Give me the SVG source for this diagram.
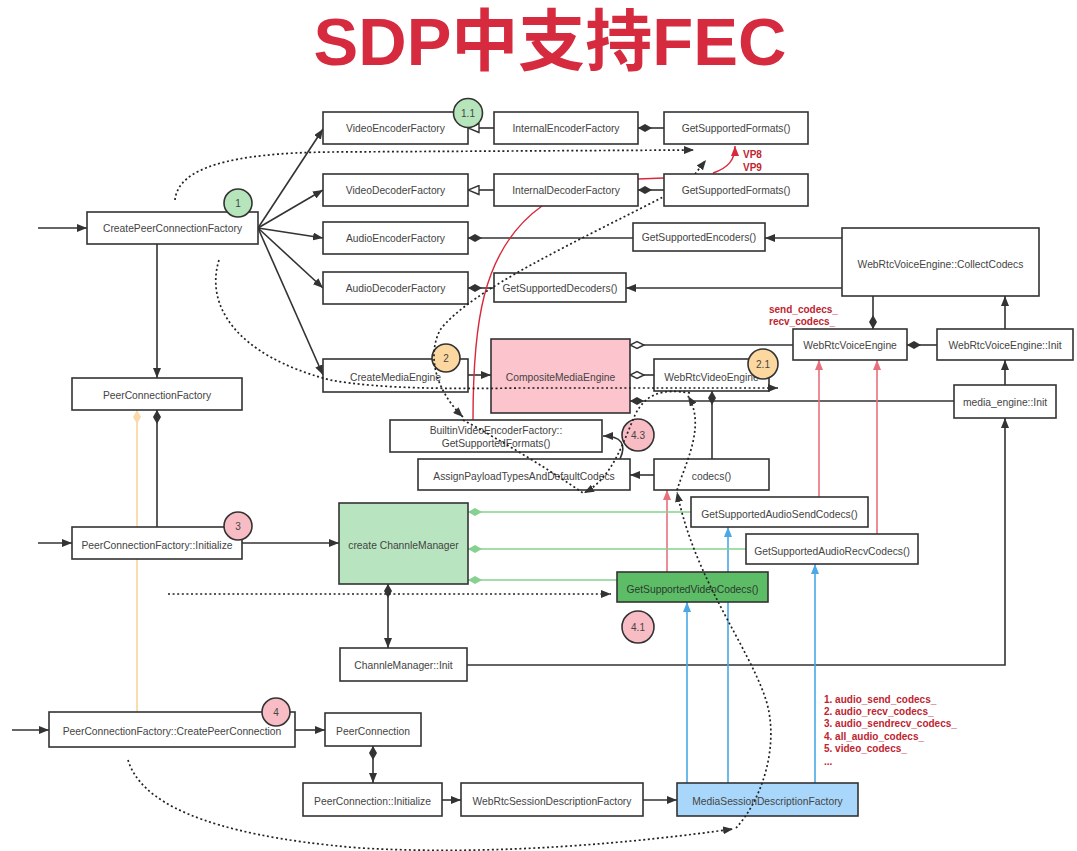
<svg xmlns="http://www.w3.org/2000/svg" width="1077" height="851" viewBox="0 0 1077 851">
<style>
.bg{fill:#fff}
.box{fill:#fff;stroke:#333;stroke-width:1.6}
.t{font-family:"Liberation Sans",Arial,sans-serif;font-size:10.3px;fill:#444;text-anchor:middle;dominant-baseline:central}
.ln{stroke:#333;stroke-width:1.6;fill:none}
.dot{stroke:#222;stroke-width:1.7;stroke-dasharray:2 2.6;fill:none}
.red{stroke:#d9283c;stroke-width:1.4;fill:none}
.pk{stroke:#e8707c;stroke-width:1.6;fill:none}
.bl{stroke:#4aa8e6;stroke-width:1.6;fill:none}
.gr{stroke:#86d090;stroke-width:1.6;fill:none}
.or{stroke:#fbd9a8;stroke-width:1.8;fill:none}
.badge{stroke:#333;stroke-width:1.6}
.bt{font-family:"Liberation Sans",Arial,sans-serif;font-size:10px;fill:#444;text-anchor:middle;dominant-baseline:central}
.lbl{font-family:"Liberation Sans",Arial,sans-serif;font-size:10px;font-weight:bold;fill:#c0242f}
.title{font-family:"Liberation Sans","Noto Sans CJK SC",sans-serif;font-size:67px;font-weight:bold;fill:#d62a3e;text-anchor:middle}
</style>
<defs>
<marker id="arr" viewBox="0 0 10 8" refX="10" refY="4" markerWidth="10" markerHeight="8" markerUnits="userSpaceOnUse" orient="auto-start-reverse"><path d="M0,0 L10,4 L0,8 z" fill="#333"/></marker>
<marker id="arrPk" viewBox="0 0 10 8" refX="10" refY="4" markerWidth="10" markerHeight="8" markerUnits="userSpaceOnUse" orient="auto"><path d="M0,0 L10,4 L0,8 z" fill="#e8707c"/></marker>
<marker id="arrBl" viewBox="0 0 10 8" refX="10" refY="4" markerWidth="10" markerHeight="8" markerUnits="userSpaceOnUse" orient="auto"><path d="M0,0 L10,4 L0,8 z" fill="#4aa8e6"/></marker>
<marker id="arrRed" viewBox="0 0 10 8" refX="10" refY="4" markerWidth="10" markerHeight="8" markerUnits="userSpaceOnUse" orient="auto"><path d="M0,0 L10,4 L0,8 z" fill="#d9283c"/></marker>
<marker id="dia" viewBox="0 0 14 8" refX="14" refY="4" markerWidth="14" markerHeight="8" markerUnits="userSpaceOnUse" orient="auto-start-reverse"><path d="M0,4 L7,0 L14,4 L7,8 z" fill="#333"/></marker>
<marker id="diaG" viewBox="0 0 14 8" refX="14" refY="4" markerWidth="14" markerHeight="8" markerUnits="userSpaceOnUse" orient="auto"><path d="M0,4 L7,0 L14,4 L7,8 z" fill="#86d090"/></marker>
<marker id="diaO" viewBox="0 0 14 8" refX="14" refY="4" markerWidth="14" markerHeight="8" markerUnits="userSpaceOnUse" orient="auto"><path d="M0,4 L7,0 L14,4 L7,8 z" fill="#fbd9a8"/></marker>
<marker id="hdia" viewBox="0 0 16 10" refX="15" refY="5" markerWidth="16" markerHeight="10" markerUnits="userSpaceOnUse" orient="auto"><path d="M1,5 L8,1.5 L15,5 L8,8.5 z" fill="#fff" stroke="#333" stroke-width="1.4"/></marker>
<marker id="htri" viewBox="0 0 13 11" refX="12" refY="5.5" markerWidth="13" markerHeight="11" markerUnits="userSpaceOnUse" orient="auto"><path d="M1,1 L12,5.5 L1,10 z" fill="#fff" stroke="#333" stroke-width="1.4"/></marker>
</defs>
<rect class="bg" x="0" y="0" width="1077" height="851"/>
<text class="title" x="550" y="65">SDP中支持FEC</text>

<g id="connectors">
<path class="ln" d="M38,228 L87,228" marker-end="url(#arr)"/>
<path class="ln" d="M38,543 L72,543" marker-end="url(#arr)"/>
<path class="ln" d="M12,730 L49,730" marker-end="url(#arr)"/>
<path class="ln" d="M258,228 L323,129" marker-end="url(#arr)"/>
<path class="ln" d="M258,228 L323,190" marker-end="url(#arr)"/>
<path class="ln" d="M258,228 L323,238" marker-end="url(#arr)"/>
<path class="ln" d="M258,228 L323,288" marker-end="url(#arr)"/>
<path class="ln" d="M258,228 L323,375" marker-end="url(#arr)"/>
<path class="ln" d="M157,244 L157,378" marker-end="url(#arr)"/>
<path class="ln" d="M157,527 L157,410" marker-end="url(#dia)"/>
<path class="or" d="M137,712 L137,410" marker-end="url(#diaO)"/>
<path class="ln" d="M242,543 L339,543" marker-end="url(#arr)"/>
<path class="ln" d="M388,584 L388,648" marker-start="url(#dia)" marker-end="url(#arr)"/>
<path class="ln" d="M467,665 L1005,665 L1005,418" marker-end="url(#arr)"/>
<path class="ln" d="M1005,385 L1005,360" marker-end="url(#arr)"/>
<path class="ln" d="M1005,329 L1005,296" marker-end="url(#arr)"/>
<path class="ln" d="M937,345 L907,345" marker-end="url(#dia)"/>
<path class="ln" d="M873,296 L873,329" marker-end="url(#dia)"/>
<path class="ln" d="M842,238 L765,238" marker-end="url(#arr)"/>
<path class="ln" d="M842,288 L626,288" marker-end="url(#arr)"/>
<path class="ln" d="M633,238 L468,238" marker-end="url(#dia)"/>
<path class="ln" d="M494,288 L468,288" marker-end="url(#dia)"/>
<path class="ln" d="M494,128 L468,128" marker-end="url(#htri)"/>
<path class="ln" d="M494,190 L468,190" marker-end="url(#htri)"/>
<path class="ln" d="M664,128 L638,128" marker-end="url(#dia)"/>
<path class="ln" d="M664,190 L638,190" marker-end="url(#dia)"/>
<path class="ln" d="M468,375 L491,375" marker-end="url(#arr)"/>
<path class="ln" d="M793,345 L630,345" marker-end="url(#hdia)"/>
<path class="ln" d="M654,375 L630,375" marker-end="url(#hdia)"/>
<path class="ln" d="M954,401 L630,401" marker-end="url(#dia)"/>
<path class="ln" d="M712,459 L712,391" marker-end="url(#dia)"/>
<path class="ln" d="M654,475 L630,475" marker-end="url(#arr)"/>
<path class="ln" d="M620,459 C627,444 621,436 603,436" marker-end="url(#arr)"/>
<path class="ln" d="M295,730 L325,730" marker-end="url(#arr)"/>
<path class="ln" d="M373,746 L373,783" marker-start="url(#dia)" marker-end="url(#arr)"/>
<path class="ln" d="M442,800 L461,800" marker-end="url(#arr)"/>
<path class="ln" d="M643,800 L677,800" marker-end="url(#arr)"/>
<path class="pk" d="M667,572 L667,490" marker-end="url(#arrPk)"/>
<path class="pk" d="M819,497 L819,360" marker-end="url(#arrPk)"/>
<path class="pk" d="M877,534 L877,360" marker-end="url(#arrPk)"/>
<path class="bl" d="M687,783 L687,602" marker-end="url(#arrBl)"/>
<path class="bl" d="M728,783 L728,527" marker-end="url(#arrBl)"/>
<path class="bl" d="M815,783 L815,564" marker-end="url(#arrBl)"/>
<path class="gr" d="M691,512 L468,512" marker-end="url(#diaG)"/>
<path class="gr" d="M746,549 L468,549" marker-end="url(#diaG)"/>
<path class="gr" d="M617,580 L468,580" marker-end="url(#diaG)"/>
<path class="red" d="M473,420 C473,330 480,250 542,206"/>
<path class="red" d="M638,179 L664,178"/>
<path class="red" d="M713,173 C728,168 735,160 735,146" marker-end="url(#arrRed)"/>
<path class="dot" d="M168,594 L611,594" marker-end="url(#arr)"/>
<path class="dot" d="M175,200 C178,168 230,153 330,152 L694,150" marker-end="url(#arr)"/>
<path class="dot" d="M695,174 L706,160" marker-end="url(#arr)"/>
</g>

<g id="n_cpcf"><rect class="box" x="87" y="212" width="171" height="32"/><text class="t" x="172.5" y="228">CreatePeerConnectionFactory</text></g>
<g id="n_vef"><rect class="box" x="323" y="112" width="145" height="32"/><text class="t" x="395.5" y="128">VideoEncoderFactory</text></g>
<g id="n_ief"><rect class="box" x="494" y="112" width="144" height="32"/><text class="t" x="566" y="128">InternalEncoderFactory</text></g>
<g id="n_gsf1"><rect class="box" x="664" y="112" width="144" height="32"/><text class="t" x="736" y="128">GetSupportedFormats()</text></g>
<g id="n_vdf"><rect class="box" x="323" y="174" width="145" height="32"/><text class="t" x="395.5" y="190">VideoDecoderFactory</text></g>
<g id="n_idf"><rect class="box" x="494" y="174" width="144" height="32"/><text class="t" x="566" y="190">InternalDecoderFactory</text></g>
<g id="n_gsf2"><rect class="box" x="664" y="174" width="144" height="32"/><text class="t" x="736" y="190">GetSupportedFormats()</text></g>
<g id="n_aef"><rect class="box" x="323" y="222" width="145" height="32"/><text class="t" x="395.5" y="238">AudioEncoderFactory</text></g>
<g id="n_gse"><rect class="box" x="633" y="223" width="132" height="28"/><text class="t" x="699" y="237">GetSupportedEncoders()</text></g>
<g id="n_adf"><rect class="box" x="323" y="272" width="145" height="32"/><text class="t" x="395.5" y="288">AudioDecoderFactory</text></g>
<g id="n_gsd"><rect class="box" x="494" y="273" width="132" height="29"/><text class="t" x="560" y="288">GetSupportedDecoders()</text></g>
<g id="n_cc"><rect class="box" x="842" y="228" width="197" height="68"/><text class="t" x="940.5" y="264">WebRtcVoiceEngine::CollectCodecs</text></g>
<g id="n_wve"><rect class="box" x="793" y="329" width="114" height="31"/><text class="t" x="850" y="345">WebRtcVoiceEngine</text></g>
<g id="n_wvei"><rect class="box" x="937" y="329" width="136" height="31"/><text class="t" x="1005" y="345">WebRtcVoiceEngine::Init</text></g>
<g id="n_cme"><rect class="box" x="323" y="359" width="145" height="33"/><text class="t" x="395.5" y="377">CreateMediaEngine</text></g>
<g id="n_comp"><rect class="box" x="491" y="339" width="139" height="74" style="fill:#fcc5cd"/><text class="t" x="560.5" y="377">CompositeMediaEngine</text></g>
<g id="n_wvideo"><rect class="box" x="654" y="359" width="115" height="32"/><text class="t" x="711.5" y="377">WebRtcVideoEngine</text></g>
<g id="n_mei"><rect class="box" x="954" y="385" width="102" height="33"/><text class="t" x="1005" y="402">media_engine::Init</text></g>
<g id="n_pcf"><rect class="box" x="72" y="378" width="170" height="32"/><text class="t" x="157" y="395">PeerConnectionFactory</text></g>
<g id="n_bvef"><rect class="box" x="390" y="420" width="212" height="32"/><text class="t" x="496" y="430">BuiltinVideoEncoderFactory::</text><text class="t" x="496" y="443">GetSupportedFormats()</text></g>
<g id="n_apt"><rect class="box" x="418" y="459" width="212" height="31"/><text class="t" x="524" y="476">AssignPayloadTypesAndDefaultCodecs</text></g>
<g id="n_codecs"><rect class="box" x="654" y="459" width="115" height="31"/><text class="t" x="711.5" y="476">codecs()</text></g>
<g id="n_pcfi"><rect class="box" x="72" y="527" width="170" height="32"/><text class="t" x="157" y="545">PeerConnectionFactory::Initialize</text></g>
<g id="n_ccm"><rect class="box" x="339" y="503" width="129" height="81" style="fill:#b8e4c0"/><text class="t" x="403.5" y="545">create ChannleManager</text></g>
<g id="n_gsas"><rect class="box" x="691" y="497" width="177" height="30"/><text class="t" x="779.5" y="514">GetSupportedAudioSendCodecs()</text></g>
<g id="n_gsar"><rect class="box" x="746" y="534" width="172" height="30"/><text class="t" x="832" y="551">GetSupportedAudioRecvCodecs()</text></g>
<g id="n_gsvc"><rect class="box" x="617" y="572" width="151" height="30" style="fill:#5dbd67"/><text class="t" x="692.5" y="589" style="fill:#2d3a2e">GetSupportedVideoCodecs()</text></g>
<g id="n_cmi"><rect class="box" x="340" y="648" width="127" height="33"/><text class="t" x="403.5" y="665">ChannleManager::Init</text></g>
<g id="n_cpc"><rect class="box" x="49" y="712" width="246" height="35"/><text class="t" x="172" y="731">PeerConnectionFactory::CreatePeerConnection</text></g>
<g id="n_pc"><rect class="box" x="325" y="713" width="96" height="33"/><text class="t" x="373" y="731">PeerConnection</text></g>
<g id="n_pci"><rect class="box" x="303" y="783" width="139" height="33"/><text class="t" x="372.5" y="801">PeerConnection::Initialize</text></g>
<g id="n_wsdf"><rect class="box" x="461" y="783" width="182" height="33"/><text class="t" x="552" y="801">WebRtcSessionDescriptionFactory</text></g>
<g id="n_msdf"><rect class="box" x="677" y="783" width="181" height="33" style="fill:#a9d7fb"/><text class="t" x="767.5" y="801">MediaSessionDescriptionFactory</text></g>

<g id="badges">
<g id="b1"><circle class="badge" cx="238" cy="203" r="14" fill="#b6e5bb"/><text class="bt" x="238" y="203">1</text></g>
<g id="b11"><circle class="badge" cx="468" cy="113" r="14.5" fill="#b6e5bb"/><text class="bt" x="468" y="113">1.1</text></g>
<g id="b2"><circle class="badge" cx="446" cy="358" r="14" fill="#fcd8a0"/><text class="bt" x="446" y="358">2</text></g>
<g id="b21"><circle class="badge" cx="763" cy="364" r="15" fill="#fcd8a0"/><text class="bt" x="763" y="364">2.1</text></g>
<g id="b3"><circle class="badge" cx="238" cy="526" r="14" fill="#f8bcc4"/><text class="bt" x="238" y="526">3</text></g>
<g id="b4"><circle class="badge" cx="276" cy="712" r="14" fill="#f8bcc4"/><text class="bt" x="276" y="712">4</text></g>
<g id="b41"><circle class="badge" cx="638" cy="627" r="16" fill="#f8bcc4"/><text class="bt" x="638" y="627">4.1</text></g>
<g id="b43"><circle class="badge" cx="638" cy="435" r="16" fill="#f8bcc4"/><text class="bt" x="638" y="435">4.3</text></g>
</g>

<g id="flow-connectors">
<path class="dot" d="M463,417 C440,395 425,360 440,330 C470,290 580,240 663,197" marker-start="url(#arr)"/>
<path class="dot" d="M219,260 C205,305 235,355 330,380 C380,389 450,389 520,388 L778,388" marker-end="url(#arr)"/>
<path class="dot" d="M128,760 C140,800 200,835 360,848 C500,856 640,842 733,829" marker-end="url(#arr)"/>
<path class="dot" d="M736,828 C762,800 780,745 766,700 C748,645 695,580 677,492" marker-end="url(#arr)"/>
<path class="dot" d="M677,490 C686,462 706,425 688,396" marker-end="url(#arr)"/>
<path class="dot" d="M690,393 C660,388 645,395 635,415 C622,445 612,478 584,493" marker-end="url(#arr)"/>
<path class="dot" d="M463,420 C500,440 550,470 583,493"/>
</g>

<g id="labels">
<text class="lbl" x="743" y="158">VP8</text>
<text class="lbl" x="743" y="171">VP9</text>
<text class="lbl" x="769" y="313">send_codecs_</text>
<text class="lbl" x="769" y="325">recv_codecs_</text>
<text class="lbl" x="824" y="703">1. audio_send_codecs_</text>
<text class="lbl" x="824" y="715">2. audio_recv_codecs_</text>
<text class="lbl" x="824" y="727">3. audio_sendrecv_codecs_</text>
<text class="lbl" x="824" y="740">4. all_audio_codecs_</text>
<text class="lbl" x="824" y="752">5. video_codecs_</text>
<text class="lbl" x="824" y="765">...</text>
</g>
</svg>
